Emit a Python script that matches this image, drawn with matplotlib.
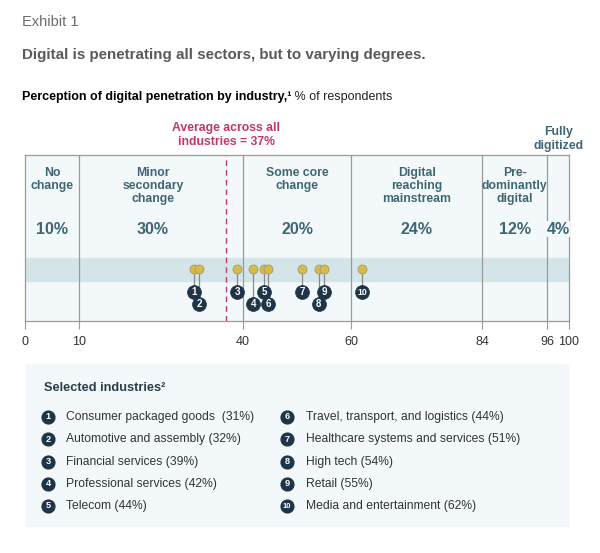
import numpy as np
import matplotlib.pyplot as plt

plt.rcParams['font.family'] = ['Liberation Sans', 'DejaVu Sans']

# ---------------- data
stages = ['No\nchange', 'Minor\nsecondary\nchange', 'Some core\nchange',
          'Digital\nreaching\nmainstream', 'Pre-\ndominantly\ndigital', '']
shares = [10, 30, 20, 24, 12, 4]
average = 37

industries = ['Consumer packaged goods  (31%)', 'Automotive and assembly (32%)',
              'Financial services (39%)', 'Professional services (42%)',
              'Telecom (44%)', 'Travel, transport, and logistics (44%)',
              'Healthcare systems and services (51%)', 'High tech (54%)',
              'Retail (55%)', 'Media and entertainment (62%)']
values = [31, 32, 39, 42, 44, 44, 51, 54, 55, 62]
label_row = [0, 1, 0, 1, 0, 1, 0, 1, 0, 0]   # 0 = upper, 1 = lower
nudge = [0, 0, 0, 0, 0, 0.7, 0, 0, 0, 0]     # keeps 5 and 6 apart

# ---------------- colours
BOX_BG = '#f3f8fa'
BAND = '#d3e5e9'
GRID = '#9a9a9a'
TEAL = '#3f6674'
PINK = '#c0376f'
NAVY = '#1f3547'
GOLD = '#d8bb45'

fig = plt.figure(figsize=(6, 5.53), dpi=100)
W, H = 600, 553

# ---------------- main axis
ax = fig.add_axes([25 / W, (H - 321) / H, 544 / W, 166 / H])
ax.set_xlim(0, 100)
ax.set_ylim(0, 166)
ax.set_facecolor(BOX_BG)

# header
fig.text(22 / W, 1 - 22 / H, 'Exhibit 1', fontsize=10.5, color='#6a6a6a', va='center')
fig.text(22 / W, 1 - 55 / H, 'Digital is penetrating all sectors, but to varying degrees.',
         fontsize=10.9, fontweight='bold', color='#5a5a5a', va='center')
t1 = fig.text(22 / W, 1 - 97 / H, 'Perception of digital penetration by industry,\u00b9',
              fontsize=9.0, fontweight='bold', color='black', va='center')
ax.annotate(' % of respondents', xy=(1, 0.5), xycoords=t1, va='center',
            fontsize=9.0, color='#222222', annotation_clip=False)

bounds = np.concatenate([[0], np.cumsum(shares)])
ax.axhspan(40, 63, color=BAND, zorder=0)
for b in bounds[1:-1]:
    ax.axvline(b, color=GRID, lw=0.9, zorder=1)

for s in ['top', 'left', 'right', 'bottom']:
    ax.spines[s].set_color(GRID)
    ax.spines[s].set_linewidth(0.9)

ax.set_yticks([])
ax.set_xticks(bounds)
ax.set_xticklabels([str(int(b)) for b in bounds])
ax.tick_params(axis='x', length=6, color=GRID, labelsize=9, labelcolor='#333333', pad=5)

# stage labels
for i, (name, share) in enumerate(zip(stages, shares)):
    cx = (bounds[i] + bounds[i + 1]) / 2
    if i == 1:
        cx = (bounds[i] + average) / 2
    if name:
        ax.text(cx, 154, name, ha='center', va='top', fontsize=8.8, fontweight='bold',
                color=TEAL, linespacing=1.12)
    ax.text(cx, 92, f'{share}%', ha='center', va='center', fontsize=11.5,
            fontweight='bold', color=TEAL,
            bbox=dict(facecolor=BOX_BG, edgecolor='none', pad=0.5) if i == 5 else None)

ax.text((bounds[-2] + bounds[-1]) / 2, 182, 'Fully\ndigitized', ha='center', va='center',
        fontsize=8.8, fontweight='bold', color=TEAL, linespacing=1.12, clip_on=False)

# average
ax.axvline(average, color=PINK, lw=1.0, ls=(0, (4, 3)), zorder=2)
ax.text(average, 186, 'Average across all\nindustries = 37%', ha='center', va='center',
        fontsize=8.8, fontweight='bold', color=PINK, linespacing=1.12, clip_on=False)

# dots and numbered labels
row_y = [29, 17]
for k, (v, r, dx) in enumerate(zip(values, label_row, nudge)):
    x = v + dx
    ax.plot([x, x], [52, row_y[r]], color='#8a8a8a', lw=0.9, zorder=3)
    ax.plot(x, 52, 'o', ms=6.5, mfc=GOLD, mec='#a09a80', mew=0.6, zorder=4)
    ax.plot(x, row_y[r], 'o', ms=10, mfc=NAVY, mec=NAVY, mew=0.5, zorder=5)
    ax.text(x, row_y[r] - 0.3, str(k + 1), ha='center', va='center', color='white',
            fontsize=7 if k < 9 else 6.2, fontweight='bold', zorder=6)

# ---------------- legend panel
lg = fig.add_axes([26 / W, (H - 527) / H, 544 / W, 163 / H])
lg.set_xlim(0, 544)
lg.set_ylim(163, 0)
lg.set_facecolor(BOX_BG)
for s in lg.spines.values():
    s.set_visible(False)
lg.set_xticks([])
lg.set_yticks([])

lg.text(18, 24, 'Selected industries\u00b2', fontsize=9.2, fontweight='bold',
        color='#2d3d48', va='center')
for k, name in enumerate(industries):
    col, row = divmod(k, 5)
    cx = 22 + col * 239
    cy = 53 + row * 22.3
    lg.plot(cx, cy, 'o', ms=9.2, color=NAVY)
    lg.text(cx, cy - 0.2, str(k + 1), ha='center', va='center', color='white',
            fontsize=6.6 if k < 9 else 5.4, fontweight='bold')
    lg.text(cx + 18.5, cy, name, fontsize=8.7, color='#333333', va='center')

fig.savefig('out.png', dpi=100)
